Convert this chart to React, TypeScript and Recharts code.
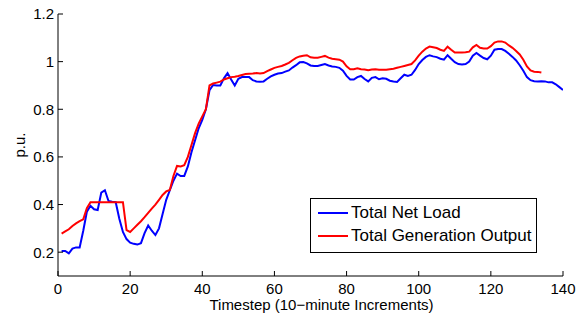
import { LineChart, Line, XAxis, YAxis, Legend, Label } from 'recharts';

// valores (p.u.), passo de 10 minutos a partir de t=1
const netLoad = [
  0.205, 0.205, 0.195, 0.215, 0.22, 0.22, 0.29, 0.37, 0.395, 0.38,
  0.377, 0.45, 0.46, 0.415, 0.412, 0.41, 0.34, 0.285, 0.255, 0.24,
  0.235, 0.232, 0.238, 0.28, 0.312, 0.29, 0.272, 0.3, 0.36, 0.42,
  0.46, 0.5, 0.53, 0.52, 0.52, 0.56, 0.62, 0.67, 0.72, 0.755,
  0.8, 0.88, 0.902, 0.9, 0.9, 0.93, 0.952, 0.925, 0.9, 0.928,
  0.935, 0.935, 0.935, 0.922, 0.917, 0.916, 0.917, 0.928, 0.938, 0.945,
  0.95, 0.952, 0.958, 0.963, 0.975, 0.985, 0.997, 0.998, 0.993, 0.984,
  0.982, 0.982, 0.986, 0.99, 0.984, 0.98, 0.978, 0.974, 0.962, 0.94,
  0.925, 0.925, 0.935, 0.94, 0.927, 0.917, 0.932, 0.935, 0.926, 0.93,
  0.928, 0.92, 0.917, 0.915, 0.93, 0.945, 0.94, 0.945, 0.965, 0.99,
  1.007, 1.02, 1.027, 1.022, 1.019, 1.012, 1.008, 1.027, 1.012, 0.998,
  0.99, 0.988, 0.99, 1.0, 1.025, 1.036, 1.025, 1.015, 1.01, 1.025,
  1.05, 1.053, 1.053, 1.045, 1.033, 1.02, 1.005, 0.985, 0.962, 0.935,
  0.922, 0.918, 0.917, 0.918, 0.917, 0.913, 0.913, 0.905, 0.893, 0.881,
];

const generation = [
  0.278, 0.287, 0.296, 0.31, 0.321, 0.33, 0.338, 0.385, 0.41, 0.41,
  0.41, 0.41, 0.41, 0.41, 0.41, 0.41, 0.41, 0.41, 0.293, 0.285,
  0.3, 0.315, 0.33, 0.347, 0.365, 0.383, 0.4, 0.42, 0.44, 0.455,
  0.461, 0.52, 0.562, 0.56, 0.565, 0.6, 0.65, 0.7, 0.74, 0.77,
  0.8, 0.9, 0.908, 0.912, 0.916, 0.925, 0.93, 0.935, 0.937, 0.94,
  0.944, 0.948, 0.949, 0.95, 0.952, 0.95, 0.952, 0.96, 0.967, 0.974,
  0.978, 0.982, 0.988, 0.995, 1.006, 1.016, 1.022, 1.025, 1.027, 1.018,
  1.016, 1.016, 1.02, 1.024, 1.017, 1.012, 1.01, 1.008, 1.0, 0.98,
  0.968, 0.968, 0.972, 0.968, 0.967, 0.964, 0.967, 0.968, 0.966, 0.966,
  0.966, 0.968, 0.97, 0.974, 0.978, 0.982, 0.986, 0.99, 1.005, 1.025,
  1.042, 1.055, 1.063, 1.06, 1.057, 1.05, 1.045, 1.063, 1.05, 1.038,
  1.038, 1.038, 1.039, 1.042, 1.06, 1.07, 1.058, 1.055, 1.055, 1.065,
  1.08, 1.085, 1.085, 1.08, 1.068, 1.058, 1.045, 1.03, 1.008, 0.98,
  0.963, 0.958, 0.957, 0.954,
];

const xTicks = [0, 20, 40, 60, 80, 100, 120, 140];
const yTicks = [0.2, 0.4, 0.6, 0.8, 1, 1.2];

const seriesInfo = [
  { key: 'load', name: 'Total Net Load', color: '#0000ff' },
  { key: 'gen', name: 'Total Generation Output', color: '#ff0000' },
];

const data = netLoad.map((v, i) => ({
  t: i + 1,
  load: v,
  gen: i < generation.length ? generation[i] : undefined,
}));

const font = '"Liberation Sans", Arial, Helvetica, sans-serif';
const tickStyle = { fontSize: 15, fill: '#000', fontFamily: font };

function LegendBox() {
  return (
    <div
      style={{
        width: 227,
        height: 55,
        boxSizing: 'border-box',
        border: '1px solid #000',
        background: '#fff',
        paddingLeft: 7,
        paddingTop: 2,
        fontFamily: font,
        fontSize: 17,
        color: '#000',
      }}
    >
      {seriesInfo.map((s) => (
        <div key={s.key} style={{ height: 23, display: 'flex', alignItems: 'center' }}>
          <div style={{ width: 30, height: 2, background: s.color, marginRight: 3 }} />
          <span style={{ whiteSpace: 'nowrap' }}>{s.name}</span>
        </div>
      ))}
    </div>
  );
}

export default function App() {
  return (
    <div style={{ position: 'absolute', left: 0, top: 0, width: 585, height: 320, background: '#fff' }}>
      <LineChart width={585} height={320} data={data} margin={{ top: 14, right: 22, bottom: 0, left: 0 }}>
        <XAxis
          dataKey="t"
          type="number"
          domain={[0, 140]}
          ticks={xTicks}
          height={44}
          tickSize={-5}
          tickMargin={12}
          tick={tickStyle}
          stroke="#000"
          tickLine={{ stroke: '#000' }}
          allowDataOverflow
        >
          <Label
            value="Timestep (10−minute Increments)"
            position="center"
            dx={11}
            dy={7}
            style={{ fontSize: 15, fill: '#000', fontFamily: font }}
          />
        </XAxis>
        <XAxis
          xAxisId="top"
          dataKey="t"
          type="number"
          orientation="top"
          domain={[0, 140]}
          ticks={xTicks}
          height={0}
          tickSize={-5}
          tickFormatter={() => ''}
          stroke="#000"
          allowDataOverflow
        />
        <YAxis
          type="number"
          domain={[0.1, 1.2]}
          ticks={yTicks}
          width={58}
          tickSize={-5}
          tickMargin={9}
          tick={tickStyle}
          stroke="#000"
          allowDataOverflow
        >
          <Label
            value="p.u."
            position="center"
            angle={-90}
            dx={-9}
            style={{ fontSize: 15, fill: '#000', fontFamily: font }}
          />
        </YAxis>
        <YAxis
          yAxisId="right"
          orientation="right"
          type="number"
          domain={[0.1, 1.2]}
          ticks={yTicks}
          width={0}
          tickSize={-5}
          tickFormatter={() => ''}
          stroke="#000"
          allowDataOverflow
        />
        <Legend
          layout="horizontal"
          verticalAlign="middle"
          align="center"
          wrapperStyle={{ left: 310, top: 198, width: 227, height: 55 }}
          content={() => <LegendBox />}
        />
        {seriesInfo.map((s) => (
          <Line
            key={s.key}
            type="linear"
            dataKey={s.key}
            name={s.name}
            stroke={s.color}
            strokeWidth={2}
            dot={false}
            activeDot={false}
            connectNulls={false}
            isAnimationActive={false}
          />
        ))}
      </LineChart>
    </div>
  );
}
